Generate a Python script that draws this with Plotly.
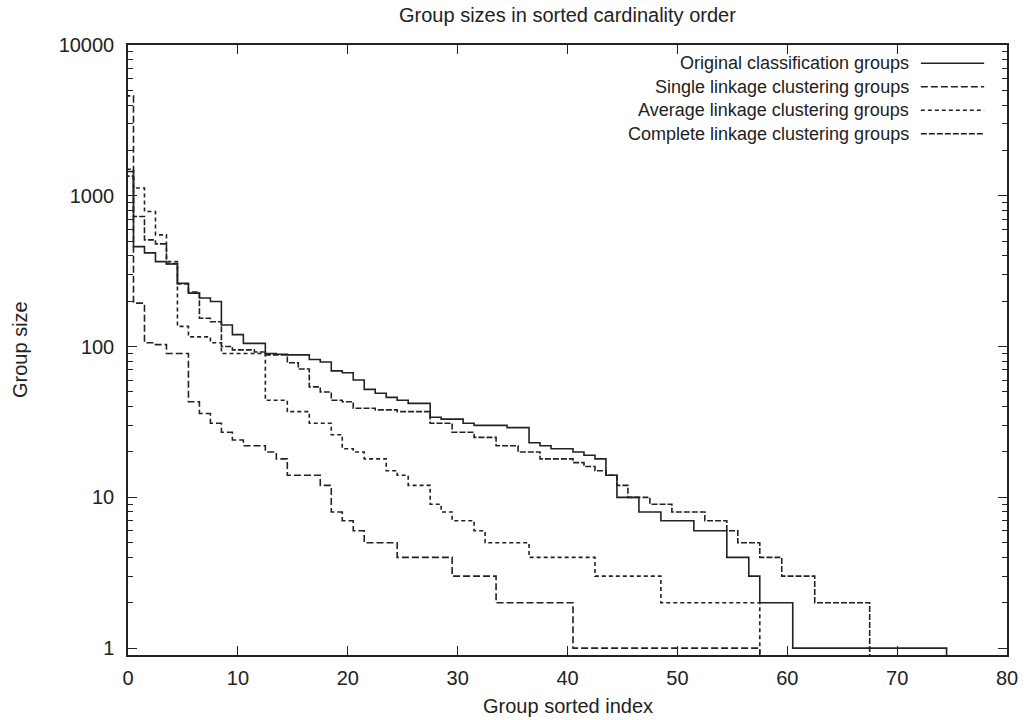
import math
import plotly.graph_objects as go

# ---------------- data ----------------
series_names = [
    "Original classification groups",
    "Single linkage clustering groups",
    "Average linkage clustering groups",
    "Complete linkage clustering groups",
]

original = [1450, 460, 418, 366, 353, 263, 226, 210, 199, 139,
            120, 105, 105, 90, 89, 88, 88, 82, 79, 69,
            67, 60, 52, 49, 46, 44, 42, 42, 34, 33,
            33, 31, 30, 30, 30, 29, 29, 23, 22, 21,
            21, 20, 19, 18, 14, 10, 10, 8, 8, 7,
            7, 7, 6, 6, 6, 4, 4, 3, 2, 2,
            2, 1, 1, 1, 1, 1, 1, 1, 1, 1,
            1, 1, 1, 1, 1]

single = [4600, 194, 106, 103, 90, 90, 43, 36, 31, 27,
          24, 22, 22, 20, 18, 14, 14, 14, 12, 8,
          7, 6, 5, 5, 5, 4, 4, 4, 4, 4,
          3, 3, 3, 3, 2, 2, 2, 2, 2, 2,
          2, 1, 1, 1, 1, 1, 1, 1, 1, 1,
          1, 1, 1, 1, 1, 1, 1, 1]

average = [1500, 1125, 786, 550, 366, 136, 116, 116, 106, 90,
           90, 90, 90, 44, 44, 37, 37, 31, 31, 26,
           21, 20, 18, 18, 15, 14, 12, 12, 9, 8,
           7, 7, 6, 5, 5, 5, 5, 4, 4, 4,
           4, 4, 4, 3, 3, 3, 3, 3, 3, 2,
           2, 2, 2, 2, 2, 2, 2, 2]

complete = [1350, 728, 510, 480, 355, 260, 230, 154, 146, 100,
            95, 95, 92, 88, 88, 78, 71, 54, 50, 44,
            43, 39, 39, 38, 38, 37, 37, 37, 31, 31,
            27, 27, 25, 25, 22, 22, 20, 20, 18, 18,
            18, 17, 16, 15, 14, 12, 10, 10, 9, 9,
            8, 8, 8, 7, 7, 6, 5, 5, 4, 4,
            3, 3, 3, 2, 2, 2, 2, 2]

x_ticks = [0, 10, 20, 30, 40, 50, 60, 70, 80]
y_ticks = [1, 10, 100, 1000, 10000]
y_tick_text = ["1", "10", "100", "1000", "10000"]

# ---------------- styling ----------------
X_RANGE = [0, 80]
Y_BOTTOM = 0.9
Y_TOP = 10000
FONT = "Liberation Sans, Arial, Helvetica, sans-serif"
INK = "#222222"
LINE_W = 1.6
dashes = ["solid", "7px,3px", "4px,3px", "6px,2px"]


def histeps(vals):
    """gnuplot 'histeps' outline: steps half way between indices,
    starting and ending on the bottom of the plot."""
    n = len(vals)
    xs = [-0.5] + [i - 0.5 for i in range(n)] + [n - 0.5]
    ys = [Y_BOTTOM] + list(vals) + [Y_BOTTOM]
    return xs, ys


fig = go.Figure()
for name, vals, dash in zip(series_names, [original, single, average, complete], dashes):
    xs, ys = histeps(vals)
    fig.add_trace(go.Scatter(
        x=xs, y=ys, mode="lines", name=name, line_shape="hv",
        line=dict(color=INK, width=LINE_W, dash=dash), showlegend=False,
    ))

# minor log ticks (2..9 in each decade)
minor_vals = [m * 10 ** d for d in range(0, 4) for m in range(2, 10)]

fig.update_layout(
    width=1030, height=720,
    margin=dict(l=128, r=20, t=45, b=65),
    paper_bgcolor="white", plot_bgcolor="white",
    font=dict(family=FONT, size=20, color=INK),
    xaxis=dict(
        range=X_RANGE, tickvals=x_ticks, ticks="inside", ticklen=9,
        tickwidth=1.3, tickcolor=INK, showgrid=False, zeroline=False,
        showline=True, linecolor=INK, linewidth=1.5, mirror="allticks",
        ticklabelstandoff=4,
    ),
    yaxis=dict(
        type="log", range=[math.log10(Y_BOTTOM), math.log10(Y_TOP)],
        tickvals=y_ticks, ticktext=y_tick_text, ticks="inside", ticklen=9,
        tickwidth=1.3, tickcolor=INK, showgrid=False, zeroline=False,
        showline=True, linecolor=INK, linewidth=1.5, mirror="allticks",
        ticklabelstandoff=8,
        minor=dict(tickvals=minor_vals, ticks="inside", ticklen=5,
                   tickwidth=1.1, tickcolor=INK, showgrid=False),
    ),
)

annotations = [
    dict(text="Group sizes in sorted cardinality order", x=0.5, y=1, xref="paper",
         yref="paper", yshift=30, xanchor="center", yanchor="middle",
         showarrow=False, font=dict(size=20)),
    dict(text="Group sorted index", x=0.5, y=0, xref="paper", yref="paper",
         yshift=-51, xanchor="center", yanchor="middle", showarrow=False),
    dict(text="Group size", x=0, y=0.5, xref="paper", yref="paper", xshift=-108,
         xanchor="center", yanchor="middle", textangle=-90, showarrow=False),
]

# gnuplot-style key: right-aligned text followed by the line sample
key_text_right = 0.890
key_line = (0.902, 0.974)
key_rows = [0.970, 0.9315, 0.893, 0.8545]
shapes = []
for name, dash, ky in zip(series_names, dashes, key_rows):
    annotations.append(dict(text=name, x=key_text_right, y=ky, xref="paper",
                            yref="paper", xanchor="right", yanchor="middle",
                            borderpad=0, font=dict(size=18),
                            showarrow=False))
    shapes.append(dict(type="line", xref="paper", yref="paper",
                       x0=key_line[0], x1=key_line[1], y0=ky, y1=ky,
                       line=dict(color=INK, width=LINE_W, dash=dash)))

fig.update_layout(annotations=annotations, shapes=shapes)
fig.write_html("out.html")
